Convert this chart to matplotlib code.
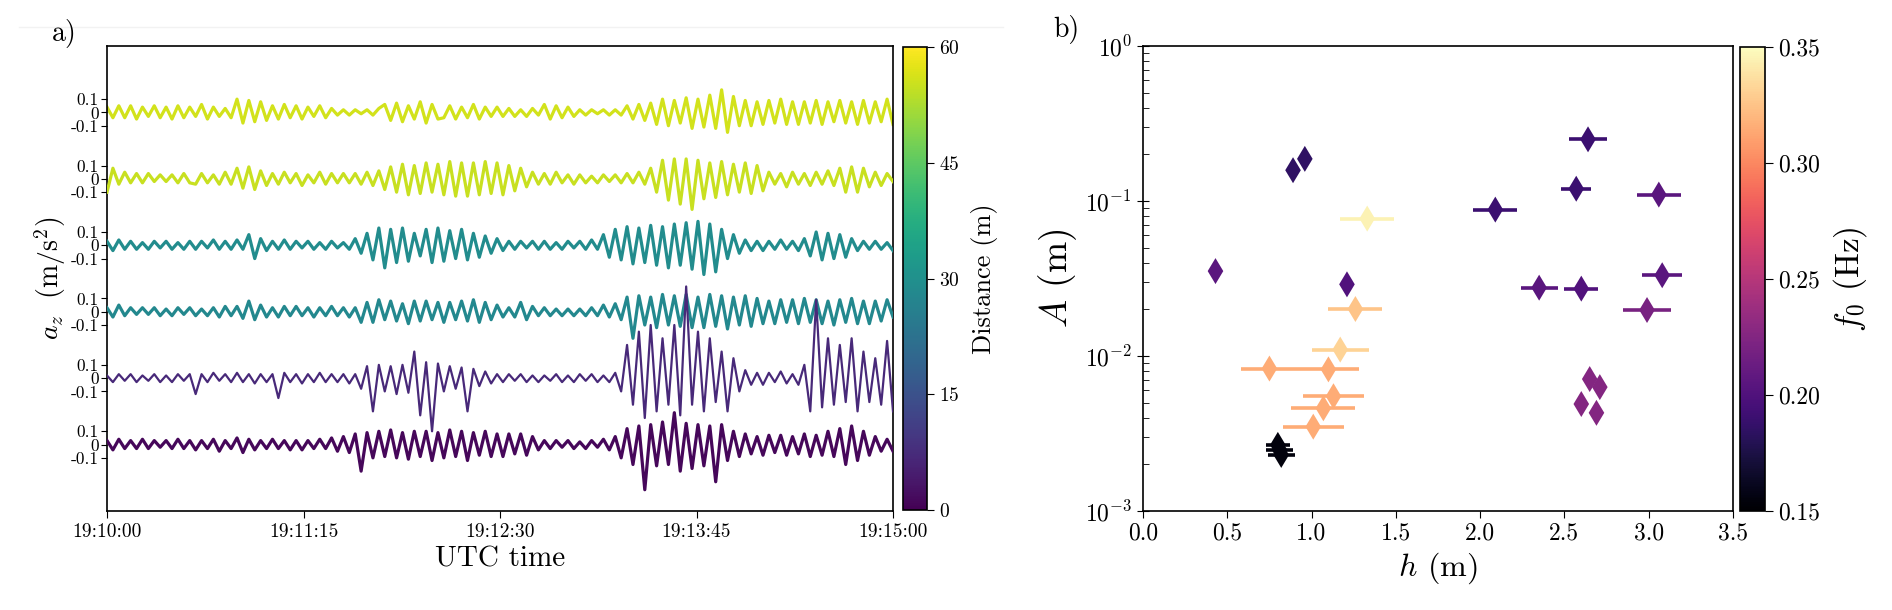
import numpy as np
import matplotlib
matplotlib.use('Agg')
import matplotlib.pyplot as plt
from matplotlib import colors

plt.rcParams['font.family'] = 'serif'
plt.rcParams['font.serif'] = ['cmr10']
plt.rcParams['mathtext.fontset'] = 'cm'
plt.rcParams['axes.formatter.use_mathtext'] = True
plt.rcParams['axes.unicode_minus'] = False

# ---- panel a: vertical acceleration traces, values in 0.01 m/s^2 (peaks/troughs) ----
trace_1 = [4,-4,5,-4,5,-5,4,-3,5,-4,4,-5,5,-4,4,
           -3,6,-5,4,-3,3,-4,
           10,-8,9,-7,8,-6,
           5,-5,6,-4,5,-5,4,-3,5,-4,3,
           -2,2,-2,2,-1,2,-2,3,
           6,-6,7,-7,5,-5,8,-8,6,-5,
           -4,5,-5,4,-4,6,-5,4,-3,4,
           -3,3,-3,2,-3,3,-2,
           6,-5,5,-4,4,-3,
           2,-2,2,-1,2,-2,2,-2,
           5,-5,6,-6,7,
           -9,10,-10,9,-8,11,-12,10,-11,13,-12,17,
           -15,12,-10,9,-10,8,-9,9,-8,10,-9,8,
           -9,8,-8,9,-9,8,-7,9,-8,8,-9,9,-8,8,-7,10,-9]
trace_2 = [-10,8,-4,5,-3,4,-3,4,-2,3,-2,3,-3,4,-3,
           -4,4,-3,3,-4,5,-4,
           8,-7,9,-8,6,-5,
           4,-4,5,-3,4,-5,3,-3,5,-4,4,
           -3,4,-3,4,-4,5,-5,6,
           -8,9,-10,11,-12,10,-11,12,-10,11,
           -12,13,-13,12,-13,12,-12,13,-11,12,
           -12,10,-9,8,-6,5,-4,
           4,-4,5,-3,3,-4,
           3,-3,2,-3,3,-2,3,-3,
           4,-3,5,-4,8,
           -10,14,-16,15,-19,15,-23,14,-15,12,-14,13,
           -12,11,-10,12,-11,10,-9,5,-4,4,-6,5,
           -4,4,-5,5,-4,6,-5,8,-10,9,-10,8,-6,5,-5,4,-2]
trace_3 = [3,-4,4,-3,3,-3,2,-3,3,-2,3,-3,2,-3,3,
           -3,3,-2,4,-3,3,-3,
           4,-3,8,-10,5,-4,
           3,-3,4,-3,3,-2,3,-3,2,-3,3,
           -2,2,-3,5,-6,9,-11,13,
           -17,12,-13,13,-12,9,-8,12,-13,13,
           -12,11,-10,12,-11,9,-9,7,-6,5,
           -4,3,-3,3,-2,3,-3,
           3,-3,2,-3,3,-2,
           3,-3,4,-3,8,-9,12,-11,
           14,-14,13,-13,15,
           -15,14,-17,16,-15,17,-18,18,-22,16,-20,12,
           -10,8,-6,4,-4,3,-4,3,-3,4,-3,3,
           -4,5,-8,10,-11,9,-10,8,-9,5,-4,3,-3,3,-3,2,-4]
trace_4 = [3,-4,5,-3,3,-2,3,-2,3,-3,2,-3,3,-2,3,
           -3,2,-3,3,-4,4,-3,
           4,-5,8,-6,5,-4,
           3,-4,4,-3,4,-3,3,-4,3,-3,4,
           -3,3,-4,3,-8,7,-8,9,
           -6,8,-7,6,-9,8,-7,8,-6,7,
           -8,7,-6,8,-7,9,-8,7,-6,5,
           -4,3,-4,7,-6,4,-3,
           3,-3,2,-3,2,-3,
           2,-3,3,-3,5,-4,6,-6,
           11,-20,12,-10,11,
           -12,13,-10,12,-11,13,-12,11,-12,13,-11,12,
           -13,11,-10,12,-11,10,-9,8,-9,9,-8,9,
           -9,10,-8,9,-9,8,-10,9,-8,10,-9,8,-9,8,-7,9,-4]
trace_5 = [2,-3,3,-2,3,-3,2,-2,3,-3,2,-3,3,-2,3,
           -12,3,-3,4,-2,3,-3,
           4,-3,3,-4,3,-3,
           3,-15,4,-3,3,-4,3,-3,4,-3,3,
           -3,3,-4,3,-8,9,-25,10,
           -10,9,-12,10,-11,20,-28,12,-40,11,
           -10,9,-8,8,-25,7,-6,5,-4,3,
           -3,3,-2,3,-3,2,-3,
           2,-2,3,-3,2,-3,
           3,-2,3,-3,2,-3,4,-10,
           25,-20,35,-30,40,
           -25,30,-20,40,-28,69,-20,35,-25,30,-18,20,
           -25,15,-10,6,-5,4,-5,4,-3,5,-4,3,
           -5,10,-25,59,-22,30,-20,25,-18,30,-25,20,-18,15,-20,28,-25]
trace_6 = [3,-4,4,-3,3,-3,4,-3,3,-2,3,-3,4,-3,3,
           -4,3,-3,4,-5,3,-3,
           5,-6,4,-4,3,-3,
           4,-3,3,-4,3,-4,3,-3,4,-3,5,
           -5,6,-6,8,-20,9,-10,10,
           -9,11,-10,9,-11,10,-9,10,-12,9,
           -10,11,-9,10,-12,9,-8,10,-9,8,
           -9,8,-7,8,-8,6,-4,
           3,-3,3,-2,3,-3,
           2,-3,3,-2,4,-4,6,-10,
           12,-15,14,-34,15,
           -16,17,-15,24,-20,16,-18,15,-16,14,-28,15,
           -12,10,-9,8,-7,6,-8,7,-6,7,-8,6,
           -7,8,-9,7,-8,10,-9,12,-15,14,-12,10,-8,6,-5,4,-5]
traces = [trace_1, trace_2, trace_3, trace_4, trace_5, trace_6]
distances = [56, 55, 29, 28, 7, 1]          # m
time_ticks = [0, 75, 150, 225, 300]          # s after 19:10:00
time_labels = ['19:10:00', '19:11:15', '19:12:30', '19:13:45', '19:15:00']

# ---- panel b: amplitude vs depth ----
h = [0.89, 0.96, 1.33, 0.43, 1.21, 1.26, 1.17, 0.75, 1.10, 1.13, 1.07, 1.01,
     0.80, 0.81, 0.82, 2.64, 2.57, 3.06, 2.09, 2.35, 2.60, 3.08, 2.99,
     2.65, 2.71, 2.60, 2.69]
A = [0.158, 0.187, 0.077, 0.0353, 0.029, 0.0201, 0.011, 0.0083, 0.0082, 0.0055,
     0.0046, 0.0035, 0.00267, 0.00248, 0.0023, 0.25, 0.12, 0.11, 0.088, 0.0276,
     0.0272, 0.0332, 0.0198, 0.0071, 0.0063, 0.0049, 0.0043]
h_err = [0, 0, 0.16, 0, 0, 0.16, 0.17, 0.17, 0.18, 0.18, 0.19, 0.18,
         0.07, 0.08, 0.08, 0.11, 0.09, 0.13, 0.13, 0.11, 0.10, 0.12, 0.14,
         0, 0, 0, 0]
f0 = [0.185, 0.185, 0.345, 0.205, 0.2, 0.325, 0.332, 0.315, 0.315, 0.315, 0.315, 0.315,
      0.155, 0.155, 0.155, 0.19, 0.19, 0.205, 0.19, 0.205, 0.2, 0.205, 0.22,
      0.225, 0.225, 0.225, 0.225]

fig = plt.figure(figsize=(18.92, 6.1), dpi=100)
W, H = 1892, 610
def box(x0, y0, x1, y1):
    return [x0 / W, 1 - y1 / H, (x1 - x0) / W, (y1 - y0) / H]

ax1 = fig.add_axes(box(107, 46, 893, 511))
cax1 = fig.add_axes(box(903, 47, 927, 510))
ax2 = fig.add_axes(box(1143, 46, 1733, 511))
cax2 = fig.add_axes(box(1740, 47, 1765, 511))

# panel a
cmap_a = plt.get_cmap('viridis')
norm_a = colors.Normalize(0, 60)
offsets = [2.5, 2.0, 1.5, 1.0, 0.5, 0.0]
for k, tr in enumerate(traces):
    t = np.linspace(0, 300, len(tr))
    y = offsets[k] + np.array(tr) * 0.01
    lw = 1.6 if k == 4 else 2.3
    ax1.plot(t, y, color=cmap_a(norm_a(distances[k])), lw=lw, zorder=k + 2)
ax1.set_xlim(0, 300)
ax1.set_ylim(-0.5, 3.0)
yt, yl = [], []
for o in offsets:
    yt += [o - 0.1, o, o + 0.1]
    yl += ['-0.1', '0', '0.1']
ax1.set_yticks(yt)
ax1.set_yticklabels(yl, fontsize=12.5)
ax1.set_xticks(time_ticks)
ax1.set_xticklabels(time_labels, fontsize=14)
ax1.tick_params(axis='y', length=4, pad=2)
ax1.tick_params(axis='x', length=5)
ax1.set_xlabel('UTC time', fontsize=21, labelpad=4)
ax1.set_ylabel(r'$a_z\ \ (\mathrm{m/s^2})$', fontsize=20, labelpad=2)
for s in ax1.spines.values():
    s.set_linewidth(1.2)

sm = plt.cm.ScalarMappable(norm=norm_a, cmap=cmap_a)
cb1 = fig.colorbar(sm, cax=cax1, ticks=[0, 15, 30, 45, 60])
cb1.ax.tick_params(labelsize=14, length=5)
cb1.set_label('Distance (m)', fontsize=19, labelpad=8)
cb1.outline.set_linewidth(1.2)

# panel b
cmap_b = plt.get_cmap('magma')
norm_b = colors.Normalize(0.15, 0.35)
for hi, ai, ei, fi in zip(h, A, h_err, f0):
    if ei > 0:
        ax2.errorbar(hi, ai, xerr=ei, fmt='none', ecolor=cmap_b(norm_b(fi)),
                     elinewidth=2.6, capsize=0, zorder=2)
sc = ax2.scatter(h, A, c=f0, cmap=cmap_b, norm=norm_b, marker='d', s=175,
                 linewidths=0, zorder=3)
ax2.set_yscale('log')
ax2.set_xlim(0, 3.5)
ax2.set_ylim(1e-3, 1)
ax2.set_xticks([0, 0.5, 1, 1.5, 2, 2.5, 3, 3.5])
ax2.set_xticklabels(['0.0', '0.5', '1.0', '1.5', '2.0', '2.5', '3.0', '3.5'])
ax2.tick_params(axis='x', labelsize=17, length=5)
ax2.tick_params(axis='y', which='major', labelsize=17, direction='inout', length=9)
ax2.tick_params(axis='y', which='minor', direction='in', length=4)
ax2.set_xlabel(r'$h$ (m)', fontsize=23, labelpad=4)
ax2.set_ylabel(r'$A$ (m)', fontsize=27, labelpad=4)
for s in ax2.spines.values():
    s.set_linewidth(1.2)

cb2 = fig.colorbar(sc, cax=cax2, ticks=[0.15, 0.20, 0.25, 0.30, 0.35])
cb2.ax.set_yticklabels(['0.15', '0.20', '0.25', '0.30', '0.35'])
cb2.ax.tick_params(labelsize=17, length=6)
cb2.set_label(r'$f_0$ (Hz)', fontsize=24, labelpad=8)
cb2.outline.set_linewidth(1.2)

fig.add_artist(plt.Line2D([0.01, 0.53], [1 - 27 / H, 1 - 27 / H], color='#f2f2f2', lw=1))
fig.text(52 / W, 1 - 33 / H, 'a)', fontsize=20, va='center')
fig.text(1053 / W, 1 - 30 / H, 'b)', fontsize=20, va='center')

fig.savefig('out.png', dpi=100)
